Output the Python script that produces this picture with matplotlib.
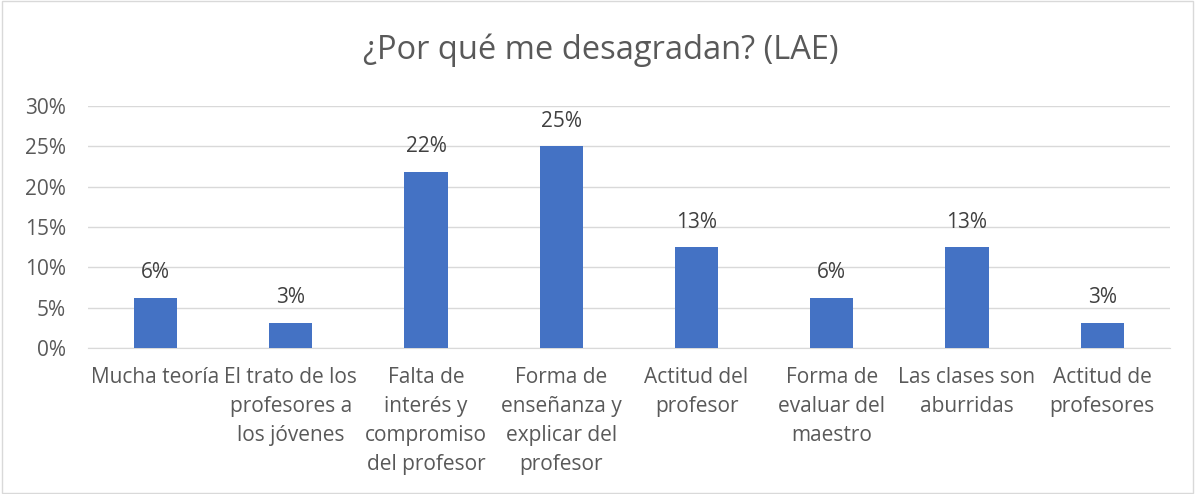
import matplotlib.pyplot as plt
from matplotlib.patches import Rectangle

# data
categories = ["Mucha teoría", "El trato de los\nprofesores a\nlos jóvenes",
              "Falta de\ninterés y\ncompromiso\ndel profesor",
              "Forma de\nenseñanza y\nexplicar del\nprofesor",
              "Actitud del\nprofesor", "Forma de\nevaluar del\nmaestro",
              "Las clases son\naburridas", "Actitud de\nprofesores"]
values = [0.0625, 0.03125, 0.21875, 0.25, 0.125, 0.0625, 0.125, 0.03125]
value_labels = ["6%", "3%", "22%", "25%", "13%", "6%", "13%", "3%"]
y_ticks = [0, 0.05, 0.10, 0.15, 0.20, 0.25, 0.30]
y_tick_labels = ["0%", "5%", "10%", "15%", "20%", "25%", "30%"]

plt.rcParams['font.family'] = ['Open Sans', 'DejaVu Sans']
text_color = "#595959"

fig = plt.figure(figsize=(11.95, 4.94), dpi=100)
ax = fig.add_axes([0.0736, 0.2955, 0.9054, 0.4899])

x = range(len(categories))
bars = ax.bar(x, values, width=0.32, color="#4472C4", zorder=3)
for b, lab in zip(bars, value_labels):
    ax.text(b.get_x() + b.get_width() / 2, b.get_height() + 0.031, lab,
            ha="center", va="center", fontsize=15, color="#404040")

ax.set_xlim(-0.5, len(categories) - 0.5)
ax.set_ylim(0, 0.30)
ax.set_yticks(y_ticks)
ax.set_yticklabels(y_tick_labels, fontsize=15, color=text_color)
ax.set_xticks(list(x))
ax.set_xticklabels(categories, fontsize=15, color=text_color, linespacing=1.5, va="top")
ax.tick_params(axis="x", length=0, pad=14)
ax.tick_params(axis="y", length=0, pad=16)
ax.grid(axis="y", color="#D9D9D9", linewidth=1, zorder=0)
for s in ["top", "right", "left"]:
    ax.spines[s].set_visible(False)
ax.spines["bottom"].set_color("#D9D9D9")

fig.text(0.503, 0.899, "¿Por qué me desagradan? (LAE)", ha="center", va="center",
         fontsize=23.5, color=text_color)

fig.patches.append(Rectangle((0.002, 0.002), 0.996, 0.996, transform=fig.transFigure,
                             fill=False, edgecolor="#D9D9D9", linewidth=1))

fig.savefig("out.png", dpi=100)
